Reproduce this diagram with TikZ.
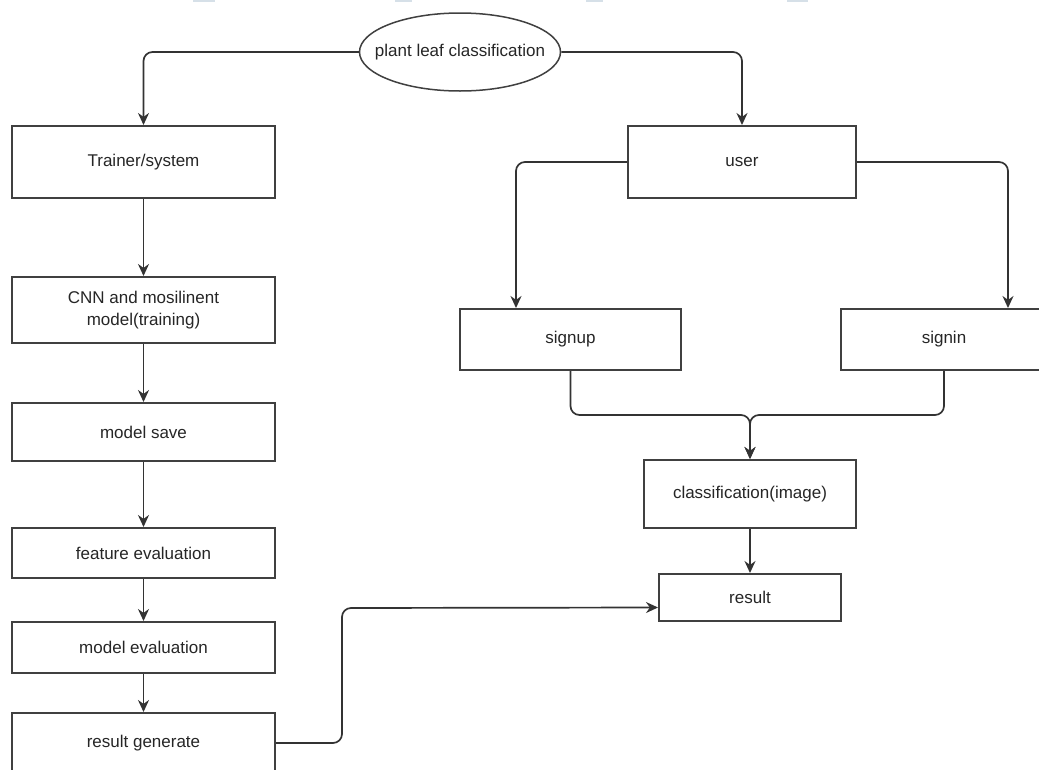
\documentclass[tikz,border=0pt]{standalone}
\usepackage{fontspec}
\setmainfont{Liberation Sans}
\usetikzlibrary{arrows.meta,shapes.geometric}
\definecolor{edgegray}{RGB}{64,64,64}
\definecolor{topmark}{RGB}{214,224,232}
\tikzset{
	box/.style={draw=edgegray, line width=2pt, fill=white, minimum width=263pt, inner sep=0pt, align=center, text=black!85, font=\fontsize{17}{22}\selectfont},
	link/.style={draw=black!80, line width=1.7pt, rounded corners=9pt},
	arr/.style={link, -{Stealth[length=12pt, width=11pt]}}
}
\begin{document}
\begin{tikzpicture}[x=1pt, y=-1pt]
			\useasboundingbox (0,0) rectangle (1039,769);
			\fill[topmark] (193,0) rectangle (215,1.5);
			\fill[topmark] (395,0) rectangle (412,1.5);
			\fill[topmark] (586,0) rectangle (603,1.5);
			\fill[topmark] (787,0) rectangle (808,1.5);
			\node[box, ellipse, line width=1.5pt, inner xsep=-17pt, minimum width=201pt, minimum height=78pt] (leaf) at (460,52) {plant leaf classification};
			\node[box, minimum height=72pt] (trainer) at (143.5,162) {Trainer/system};
			\node[box, minimum height=66pt] (cnn) at (143.5,310) {CNN and mosilinent\\model(training)};
			\node[box, minimum height=58pt] (save) at (143.5,432) {model save};
			\node[box, minimum height=50pt] (feature) at (143.5,553) {feature evaluation};
			\node[box, minimum height=51pt] (modeleval) at (143.5,647.5) {model evaluation};
			\node[box, minimum height=60pt] (generate) at (143.5,743) {result generate};
			\node[box, minimum width=228pt, minimum height=72pt] (user) at (742,162) {user};
			\node[box, minimum width=221pt, minimum height=61pt] (signup) at (570.5,339.5) {signup};
			\node[box, minimum width=206pt, minimum height=61pt] (signin) at (944,339.5) {signin};
			\node[box, minimum width=212pt, minimum height=68pt] (classify) at (750,494) {classification(image)};
			\node[box, minimum width=182pt, minimum height=47pt] (result) at (750,597.5) {result};
			\coordinate (merge) at (750,415);
			\coordinate (jog) at (342,608);
			\draw[arr] (leaf.west) -| (trainer.north);
			\draw[arr] (leaf.east) -| (user.north);
			\draw[arr] (trainer) -- (cnn);
			\draw[arr] (cnn) -- (save);
			\draw[arr] (save) -- (feature);
			\draw[arr] (feature) -- (modeleval);
			\draw[arr] (modeleval) -- (generate);
			\draw[arr] (user.west) -| ([xshift=-54.5pt]signup.north);
			\draw[arr] (user.east) -| ([xshift=64pt]signin.north);
			\draw[arr] (signup.south) |- (merge) -- (classify.north);
			\draw[arr] (signin.south) |- (merge) -- (classify.north);
			\draw[arr] (classify) -- (result);
			\draw[arr] (generate.east) -| (jog) -- ([yshift=-10pt]result.west);
		\end{tikzpicture}
\end{document}
